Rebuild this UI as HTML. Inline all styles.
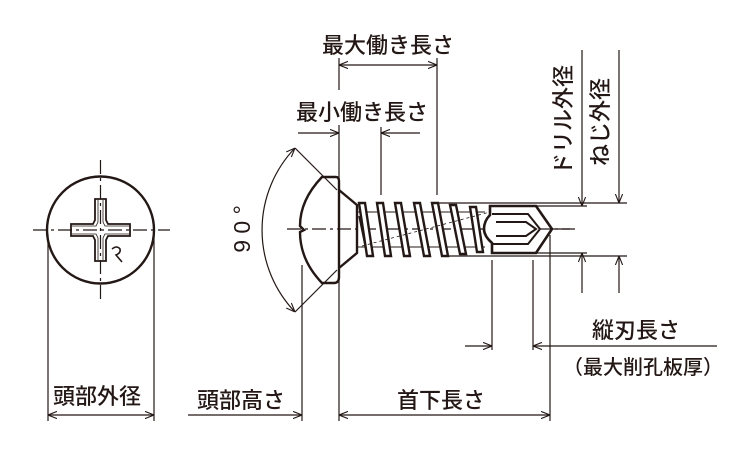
<!DOCTYPE html>
<html><head><meta charset="utf-8"><style>
html,body{margin:0;padding:0;background:#fff;}
svg{display:block}
text{font-family:"Liberation Sans","Noto Sans CJK JP",sans-serif;fill:#231815;font-weight:500;}
</style></head><body>
<svg width="750" height="450" viewBox="0 0 750 450" xmlns="http://www.w3.org/2000/svg">
<defs>
<marker id="ar" viewBox="0 0 10 10" refX="10" refY="5" markerWidth="9" markerHeight="9" orient="auto-start-reverse" markerUnits="userSpaceOnUse">
<path d="M0,1 L10,5 L0,9" fill="none" stroke="#231815" stroke-width="1.2"/></marker>
</defs>
<g stroke="#231815" fill="none" stroke-width="1.2">
<circle cx="100.5" cy="230" r="53.5" stroke-width="2.4"/>
<line x1="33" y1="230" x2="170" y2="230" stroke-dasharray="14,4,3,4"/>
<line x1="100.5" y1="160" x2="100.5" y2="300" stroke-dasharray="14,4,3,4"/>
<path d="M95,199 H106 V220 L108,224 H130 V236 H108 L106,240 V261 H95 V240 L93,236 H71 V224 H93 L95,220 Z" stroke-width="1.8"/>
<path d="M98,200 V222 L96,226 H72 M103,200 V222 L105,226 H129 M98,260 V238 L96,234 H72 M103,260 V238 L105,234 H129" stroke-width="0.8"/>
<path d="M112,249 q5,-4 8,0 q1,4 -4,6 l6,7" stroke-width="1.6"/>
<line x1="48" y1="234" x2="48" y2="421"/>
<line x1="154" y1="234" x2="154" y2="421"/>
<line x1="48" y1="415" x2="154" y2="415" marker-start="url(#ar)" marker-end="url(#ar)"/>

<line x1="287" y1="229" x2="575" y2="229" stroke-dasharray="14,4,3,4"/>
<path d="M322,177 H336 Q339,177 339,181 V277 Q339,283 334,283 H322 Q300,260 300,232 L304,230 L300,226 Q300,200 322,177 Z" stroke-width="2.4"/>
<path d="M339,190 L357,205 V253 L339,268" stroke-width="2.4"/>
<path d="M357,212 H485 M357,247 H485" stroke-width="1"/>
<g stroke-width="2.4" fill="#fff">
<path d="M359,203 L365,203 L373,256 L367,256 Z"/>
<path d="M377,203 L383,203 L391,256 L385,256 Z"/>
<path d="M395,203 L401,203 L410,256 L404,256 Z"/>
<path d="M414,203 L420,203 L430,256 L424,256 Z"/>
<path d="M432,203 L438,203 L448,256 L442,256 Z"/>
<path d="M450,205 L456,205 L466,254 L460,254 Z"/>
<path d="M470,207 L476,207 L483,252 L477,252 Z"/>
</g>
<line x1="362" y1="246" x2="490" y2="212" stroke-dasharray="3,3" stroke-width="0.8"/>
<line x1="359" y1="216" x2="366" y2="250" stroke-width="1.6"/>
<path d="M490,206 H536 L552,229 L536,253 H492 V243 Q484,236 484,229 Q484,221 490,215 Z" fill="#fff" stroke-width="2.6"/>
<path d="M492,214 H528 L540,229 M492,244 H528 L540,229 M496,222 H526 L536,229 L526,236 H496" stroke-width="2"/>
<line x1="437" y1="203" x2="627" y2="203"/>
<line x1="447" y1="256" x2="627" y2="256"/>
<line x1="536" y1="206" x2="587" y2="206"/>
<line x1="536" y1="253" x2="587" y2="253"/>
<line x1="540" y1="229" x2="570" y2="229"/>
<line x1="582" y1="50" x2="582" y2="206" marker-end="url(#ar)"/>
<line x1="582" y1="293" x2="582" y2="253" marker-end="url(#ar)"/>
<line x1="619" y1="50" x2="619" y2="203" marker-end="url(#ar)"/>
<line x1="619" y1="293" x2="619" y2="256" marker-end="url(#ar)"/>
<line x1="339" y1="58" x2="339" y2="90"/>
<line x1="339" y1="125" x2="339" y2="421"/>
<line x1="437" y1="58" x2="437" y2="195"/>
<line x1="339" y1="65" x2="437" y2="65" marker-start="url(#ar)" marker-end="url(#ar)"/>
<line x1="381" y1="127" x2="381" y2="195"/>
<line x1="298" y1="133" x2="339" y2="133" marker-end="url(#ar)"/>
<line x1="420" y1="133" x2="381" y2="133" marker-end="url(#ar)"/>
<line x1="295" y1="148" x2="337" y2="190"/>
<line x1="295" y1="312" x2="337" y2="270"/>
<path d="M295,148 A118.5,118.5 0 0 0 295,312" marker-start="url(#ar)" marker-end="url(#ar)"/>
<line x1="302" y1="265" x2="302" y2="421"/>
<line x1="188" y1="415" x2="302" y2="415" marker-end="url(#ar)"/>
<line x1="339" y1="415" x2="550" y2="415" marker-start="url(#ar)" marker-end="url(#ar)"/>
<line x1="550" y1="235" x2="550" y2="421"/>
<line x1="492" y1="260" x2="492" y2="350"/>
<line x1="533" y1="260" x2="533" y2="350"/>
<line x1="465" y1="346" x2="492" y2="346" marker-end="url(#ar)"/>
<line x1="717" y1="346" x2="533" y2="346" marker-end="url(#ar)"/>
</g>
<g font-size="22" text-anchor="middle">
<text x="388" y="53">最大働き長さ</text>
<text x="362" y="120">最小働き長さ</text>
<text x="97" y="404">頭部外径</text>
<text x="241" y="408">頭部高さ</text>
<text x="441" y="408">首下長さ</text>
<text x="636" y="338">縦刃長さ</text>
<text x="643" y="374" font-size="20">（最大削孔板厚）</text>
<text transform="translate(571,120) rotate(-90)">ドリル外径</text>
<text transform="translate(608,122) rotate(-90)">ねじ外径</text>
<text transform="translate(250,229) rotate(-90)" font-size="23">9 0 °</text>
</g>
</svg>
</body></html>
